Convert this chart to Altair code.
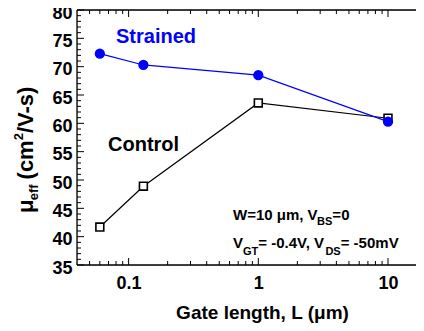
import altair as alt
import pandas as pd

# ---------------- data ----------------
gate_length = [0.06, 0.13, 1, 10]
strained = [72.3, 70.3, 68.5, 60.3]
control = [41.7, 48.9, 63.6, 60.9]
series_names = ["Strained", "Control"]

x_tick_values = [0.1, 1, 10]
y_tick_values = [35, 40, 45, 50, 55, 60, 65, 70, 75, 80]
x_minor_values = [0.05, 0.06, 0.07, 0.08, 0.09,
                  0.2, 0.3, 0.4, 0.5, 0.6, 0.7, 0.8, 0.9,
                  2, 3, 4, 5, 6, 7, 8, 9]
y_minor_values = [v for v in range(36, 80) if v % 5 != 0]

x_title = "Gate length, L (μm)"
y_title_parts = ["μ", "eff", "(cm", "2", "/V-s)"]
note_line1 = ["W=10 μm, V", "BS", "=0"]
note_line2 = ["V", "GT", "= -0.4V, V", "DS", "= -50mV"]

# ---------------- layout ----------------
W, H = 339, 255          # visible part of the plot (right frame is cropped)
FONT = "Liberation Sans"
BLUE = "#0000FF"
MAJ, MIN = 7, 4

xscale = alt.Scale(type="log", domain=[0.04, 16.44])
yscale = alt.Scale(domain=[35, 80], nice=False, zero=False)

EM = {"μ": .576, "e": .556, "f": .333, " ": .278, "(": .333, ")": .333, "c": .556,
      "m": .889, "2": .556, "/": .278, "V": .667, "-": .333, "s": .556, "W": .944,
      "=": .584, "1": .556, "0": .556, ",": .278, "B": .722, "S": .667, "G": .778,
      "T": .611, ".": .278, "4": .556, "5": .556, "D": .722}


def tw(s, size):
    return sum(EM.get(ch, 0.556) for ch in s) * size


df = pd.DataFrame({
    "L": gate_length + gate_length,
    "mu": strained + control,
    "series": [series_names[0]] * 4 + [series_names[1]] * 4,
})

XAXIS = alt.Axis(values=x_tick_values, format="~g", ticks=False, tickSize=0,
                 domain=False, grid=False, title=None, labelPadding=9,
                 labelFont=FONT, labelFontSize=18, labelFontWeight="bold",
                 labelColor="black")
YAXIS = alt.Axis(values=y_tick_values, ticks=False, tickSize=0, domain=False,
                 grid=False, title=None, labelPadding=5, labelFont=FONT,
                 labelFontSize=18, labelFontWeight="bold", labelColor="black",
                 labelOffset=3)

X = alt.X("L:Q", scale=xscale, axis=XAXIS)
Y = alt.Y("mu:Q", scale=yscale, axis=YAXIS)

ctrl = alt.Chart(df).transform_filter(alt.datum.series == "Control")
strn = alt.Chart(df).transform_filter(alt.datum.series == "Strained")

ctrl_line = ctrl.mark_line(color="black", strokeWidth=1.2).encode(x=X, y=Y)
ctrl_pts = ctrl.mark_point(shape="square", filled=True, fill="white", stroke="black",
                           strokeWidth=1.6, size=62, opacity=1).encode(x=X, y=Y)
strn_line = strn.mark_line(color=BLUE, strokeWidth=1.2).encode(x=X, y=Y)
strn_pts = strn.mark_circle(color=BLUE, size=105, opacity=1).encode(x=X, y=Y)

layers = [ctrl_line, ctrl_pts, strn_line, strn_pts]

# frame: left, top, bottom (the right one lies beyond the picture's edge)
frame_d = pd.DataFrame({"k": [0]})
layers.append(alt.Chart(frame_d).mark_rule(color="black", strokeWidth=1.3).encode(
    x=alt.value(0), y=alt.value(0), y2=alt.value(H)))
layers.append(alt.Chart(frame_d).mark_rule(color="black", strokeWidth=1.3).encode(
    x=alt.value(0), x2=alt.value(W), y=alt.value(0)))
layers.append(alt.Chart(frame_d).mark_rule(color="black", strokeWidth=1.3).encode(
    x=alt.value(0), x2=alt.value(W), y=alt.value(H)))


def yticks(vals, length):
    d = pd.DataFrame({"mu": vals})
    return [alt.Chart(d).mark_rule(color="black", strokeWidth=1).encode(
        y=Y, x=alt.value(0), x2=alt.value(length))]


def xticks(vals, length):
    d = pd.DataFrame({"L": vals})
    bottom = alt.Chart(d).mark_rule(color="black", strokeWidth=1).encode(
        x=X, y=alt.value(H), y2=alt.value(H - length))
    top = alt.Chart(d).mark_rule(color="black", strokeWidth=1).encode(
        x=X, y=alt.value(0), y2=alt.value(length))
    return [bottom, top]


layers += yticks(y_tick_values, MAJ) + yticks(y_minor_values, MIN)
layers += xticks(x_tick_values, MAJ) + xticks(x_minor_values, MIN)


def label(txt, x, y, size, color="black", angle=0, align="left"):
    return alt.Chart(pd.DataFrame({"t": [txt]})).mark_text(
        font=FONT, fontWeight="bold", fontSize=size, color=color, angle=angle,
        align=align, baseline="alphabetic").encode(
        text="t:N", x=alt.value(x), y=alt.value(y))


# series labels
layers.append(label(series_names[0], 39, 32.5, 20, BLUE))
layers.append(label(series_names[1], 31, 140.5, 20))

# x title
layers.append(label(x_title, 185.5, 309, 19, align="center"))

# y title (rotated, with sub/superscript)
F, f = 22, 13
ypos = 203
y_shift = [0, 5, 0, -10, 0]
y_size = [F, f, F, f, F]
y_gap = [0, 0, 5, 0, 0]
for part, sh, sz, gap in zip(y_title_parts, y_shift, y_size, y_gap):
    ypos -= gap
    layers.append(label(part, -44 + sh, ypos, sz, angle=270))
    ypos -= tw(part, sz)


# note lines
def note(parts, x0, base, shifts, sizes):
    out = []
    x = x0
    for part, sh, sz in zip(parts, shifts, sizes):
        out.append(label(part, x, base + sh, sz))
        x += tw(part, sz)
    return out


layers += note(note_line1, 156, 210, [0, 5, 0], [15, 11, 15])
layers += note(note_line2, 156, 238, [0, 7, 0, 7, 0], [15, 11, 15, 11, 15])

chart = alt.layer(*layers).properties(
    width=W, height=H,
    autosize=alt.AutoSizeParams(type="none"),
    padding={"left": 69, "top": 2, "right": 0, "bottom": 58},
).configure_view(stroke=None).configure(background="white")

chart.save("out.html", embed_options={"renderer": "svg", "actions": False})
